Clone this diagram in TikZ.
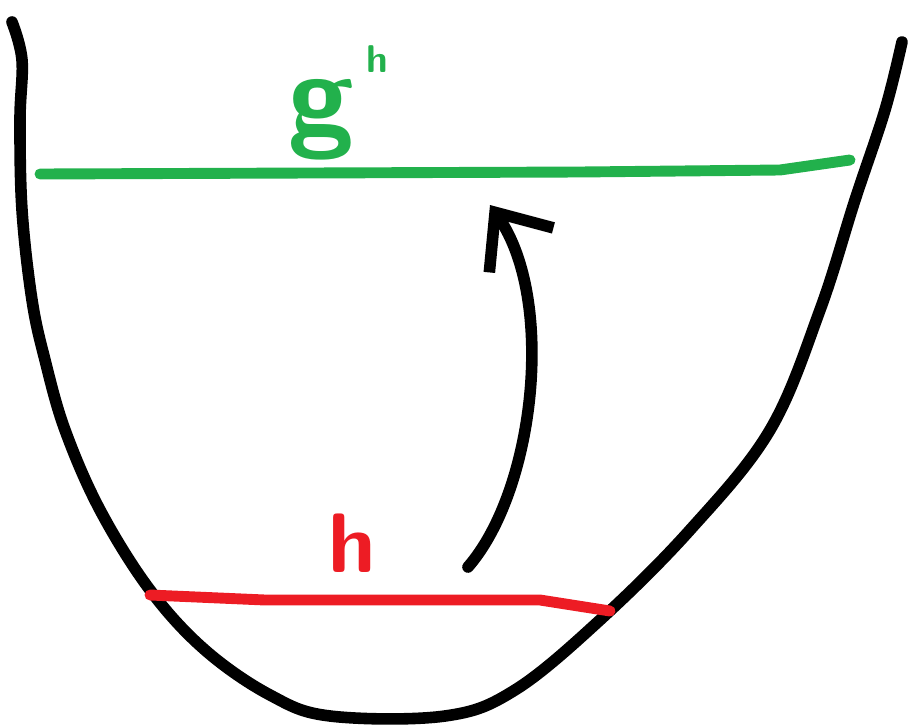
\documentclass[tikz,border=0pt]{standalone}
\usepackage{tikz}
\usetikzlibrary{arrows.meta, calc}
\definecolor{paintgreen}{HTML}{22B14C}
\definecolor{paintred}{HTML}{ED1C24}
\tikzstyle{stroke} = [line width=3.3pt, line cap=round, line join=round]
\tikzstyle{bowl} = [stroke, black]
\tikzstyle{level} = [stroke, line width=3.1pt]
\tikzstyle{lift} = [stroke, black, -{Straight Barb[length=4.6mm, width=7.8mm, line width=3.3pt]}]
\tikzstyle{greenlabel} = [text=paintgreen, font=\fontsize{34}{34}\sffamily\bfseries, inner sep=0pt]
\tikzstyle{redlabel} = [text=paintred, font=\fontsize{24}{24}\sffamily\bfseries, inner sep=0pt]

\begin{document}
\begin{tikzpicture}[x=0.01cm, y=-0.01cm]

  \useasboundingbox (0,0) rectangle (908,727);

  % the bowl
  \draw[bowl] plot[smooth, tension=0.6] coordinates {
    (12,22) (22,60) (20,120) (22,210) (32,300) (45,360) (65,430)
    (100,510) (150,590) (205,650) (270,695) (330,716) (445,716)
    (515,690) (600,620) (690,530) (770,430) (820,310) (855,200)
    (885,110) (902,42)
  };

  % levels
  \coordinate (gstart) at (40,174);
  \coordinate (gend) at (850,160);
  \coordinate (rstart) at (150,595);
  \coordinate (rend) at (610,611);

  \draw[level, paintgreen] (gstart) -- (580,172) -- (780,170) -- (gend);
  \draw[level, paintred] (rstart) -- (265,600) -- (540,600) -- (rend);

  \node[greenlabel, anchor=base] (glabel) at (338,135)
    {g\hspace{0.12cm}\raisebox{0.62cm}{\fontsize{11}{11}\selectfont h}};
  \node[redlabel, anchor=base] (hlabel) at (352,572) {h};

  % arrow from h up to g^h
  \coordinate (liftfrom) at (468,567);
  \coordinate (liftto) at (490,205);
  \draw[lift] (liftfrom) .. controls (535,490) and (556,300) .. (liftto);

\end{tikzpicture}
\end{document}
